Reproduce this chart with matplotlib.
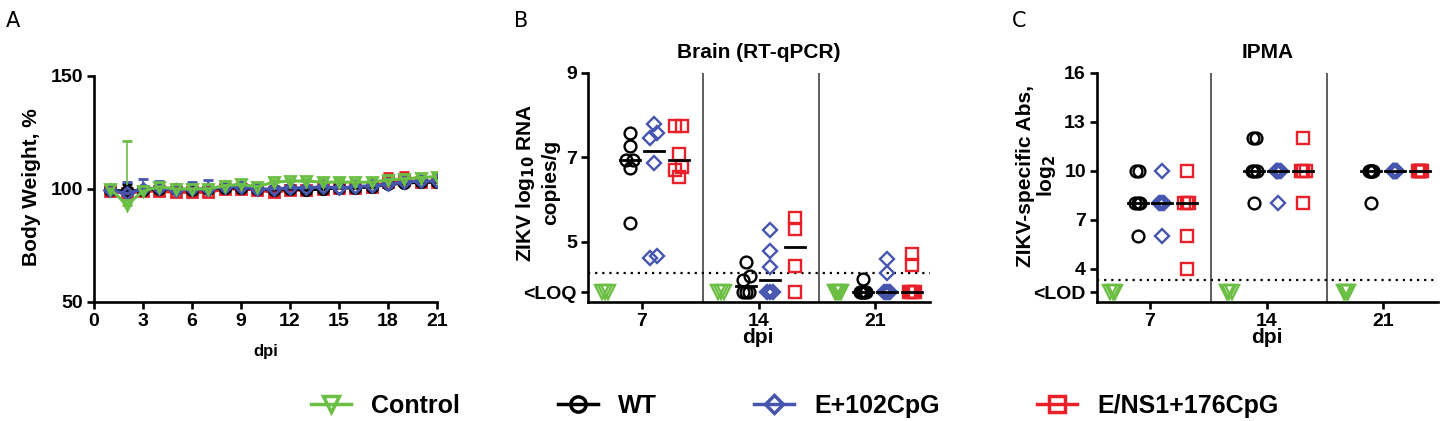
import numpy as np
import matplotlib
matplotlib.use("Agg")
import matplotlib.pyplot as plt
from matplotlib.lines import Line2D

plt.rcParams['font.family'] = ['Liberation Sans', 'DejaVu Sans']
plt.rcParams['font.weight'] = 'bold'
plt.rcParams['mathtext.default'] = 'bf'

# ---- data ----
groups = ['Control', 'WT', 'E+102CpG', 'E/NS1+176CpG']
colors = ['#6cbf45', '#000000', '#4655ae', '#e8202a']
markers = ['v', 'o', 'D', 's']

# Panel A: body weight (%) by day
days = np.arange(1, 22)
bw_control = [100, 93, 99, 101, 100, 100, 100, 101.5, 102, 101, 103, 103.5, 103.5, 103, 103, 103, 103, 104, 104.5, 105, 105.5]
bw_control_err = [1, 28, 1, 1, 1.5, 1, 1, 1, 1, 1.5, 1, 1, 1, 1.5, 1.5, 1, 1.5, 1.5, 1.5, 1.5, 1.5]
bw_wt = [99.5, 99, 99.5, 100, 100, 99.5, 100, 100.5, 100.5, 100, 99.5, 100, 99.5, 100, 100.5, 100.5, 101, 102, 102.5, 103, 103]
bw_wt_err = [1, 3, 1, 3, 1, 1, 1, 1.5, 1, 1, 1, 1, 1, 1, 1, 1, 1.5, 1.5, 1, 1, 1]
bw_e102 = [99.5, 98, 100, 100.5, 99.5, 100, 100, 101, 101, 100, 100, 100.5, 100.5, 101, 100.5, 101, 101.5, 102, 103, 103.5, 103.5]
bw_e102_err = [1, 5, 4.5, 3, 1.5, 3, 4, 1.5, 1.5, 1.5, 1.5, 1, 1, 1, 1, 1, 1.5, 1.5, 1.5, 1.5, 1.5]
bw_ens1 = [99, 98, 99, 99, 98.5, 98.5, 98.5, 100, 100, 99.5, 98.5, 99.5, 99.5, 100, 100.5, 100.5, 101, 103, 104, 103, 103]
bw_ens1_err = [1, 2, 2, 2, 1.5, 1.5, 1.5, 1.5, 1.5, 1.5, 2, 1.5, 1.5, 1.5, 1.5, 1.5, 2, 4, 3.5, 3, 3]

# Panel B: brain RT-qPCR (log10 copies/g); LOQ shown at 3.8
dpi_labels = ['7', '14', '21']
loq = 3.8
brain_control = [[loq, loq, loq], [loq, loq, loq], [loq, loq, loq, loq]]
brain_wt = [[7.57, 7.27, 6.93, 6.93, 6.75, 5.45],
            [4.52, 4.18, 4.08, loq, loq, loq],
            [4.12, loq, loq, loq, loq, loq]]
brain_e102 = [[7.79, 7.57, 7.45, 6.86, 4.67, 4.62],
              [5.27, 4.78, 4.40, loq, loq, loq],
              [4.60, 4.26, loq, loq, loq, loq]]
brain_ens1 = [[7.74, 7.74, 7.09, 6.77, 6.70, 6.54],
              [5.55, 5.31, 4.42, loq],
              [4.70, 4.44, loq, loq, loq, loq]]
brain_loq_line = 4.25

# Panel C: IPMA (log2 titre); LOD shown at 2.56
lod = 2.56
ipma_control = [[lod, lod, lod], [lod, lod, lod], [lod, lod, lod, lod]]
ipma_wt = [[10, 10, 8, 8, 8, 6], [12, 12, 10, 10, 10, 8], [10, 10, 10, 10, 10, 8]]
ipma_e102 = [[10, 8, 8, 8, 8, 6], [10, 10, 10, 10, 10, 8], [10, 10, 10, 10, 10, 10]]
ipma_ens1 = [[10, 8, 8, 8, 6, 4], [12, 10, 10, 10, 8], [10, 10, 10, 10, 10, 10]]
ipma_lod_line = 3.32

fig = plt.figure(figsize=(14.4, 4.21), dpi=100)

def style_axes(ax):
    for s in ['top', 'right']:
        ax.spines[s].set_visible(False)
    for s in ['left', 'bottom']:
        ax.spines[s].set_linewidth(1.9)
    ax.tick_params(direction='out', length=5, width=1.9, labelsize=14, pad=3)
    for lab in ax.get_xticklabels() + ax.get_yticklabels():
        lab.set_fontweight('bold')

# ---- Panel A ----
axA = fig.add_axes([0.0653, 0.2827, 0.2382, 0.537])
series_a = [(bw_ens1, bw_ens1_err, 3), (bw_wt, bw_wt_err, 1), (bw_e102, bw_e102_err, 2), (bw_control, bw_control_err, 0)]
for vals, err, k in series_a:
    axA.errorbar(days, vals, yerr=[np.zeros(len(err)), err], color=colors[k], marker=markers[k],
                 ms=7.5 if k != 2 else 6.5, mfc='none', mec=colors[k], mew=2, lw=2.2,
                 ecolor=colors[k], elinewidth=1.2, capsize=3.5, capthick=1.2)
axA.set_xlim(0, 21)
axA.set_ylim(50, 150)
axA.set_xticks(np.arange(0, 22, 3))
axA.set_yticks([50, 100, 150])
axA.set_ylabel('Body Weight, %', fontsize=15, fontweight='bold')
axA.set_xlabel('dpi', fontsize=12, fontweight='bold')
axA.yaxis.set_label_coords(-0.155, 0.51)
axA.xaxis.set_label_coords(0.5, -0.185)
style_axes(axA)

def spread(vals, tol, pair_w, multi_w):
    vals = np.asarray(vals, dtype=float)
    offs = np.zeros(len(vals))
    order = np.argsort(vals)
    clusters, cur = [], [order[0]]
    for i in order[1:]:
        if vals[i] - vals[cur[-1]] <= tol:
            cur.append(i)
        else:
            clusters.append(cur)
            cur = [i]
    clusters.append(cur)
    for c in clusters:
        n = len(c)
        if n > 1:
            w = pair_w if n == 2 else multi_w
            offs[c] = np.linspace(-w / 2, w / 2, n)
    return offs

offsets = [-0.32, -0.105, 0.1, 0.315]
sizes = [10, 8.5, 7.5, 8.5]

def scatter_panel(ax, data_sets, tol, pair_w, multi_w):
    for k, data in enumerate(data_sets):
        for g, vals in enumerate(data):
            x = g + offsets[k] + spread(vals, tol, pair_w, multi_w)
            ax.plot(x, vals, linestyle='none', marker=markers[k], ms=sizes[k],
                    mfc='none', mec=colors[k], mew=1.7, zorder=3)
            if k > 0:
                m = np.median(vals)
                ax.plot([g + offsets[k] - 0.085, g + offsets[k] + 0.085], [m, m], color='black', lw=2, zorder=4)
    for sx in [0.52, 1.52]:
        ax.axvline(sx, color='#333333', lw=1.1, zorder=1)
    ax.set_xticks([0, 1, 2])
    ax.set_xticklabels(dpi_labels)

# ---- Panel B ----
axB = fig.add_axes([0.4083, 0.2827, 0.2375, 0.544])
scatter_panel(axB, [brain_control, brain_wt, brain_e102, brain_ens1], 0.13, 0.06, 0.05)
axB.axhline(brain_loq_line, color='black', lw=1.6, linestyle=(0, (1, 2.2)), zorder=2)
axB.set_xlim(-0.464, 2.47)
axB.set_ylim(3.57, 9)
axB.set_yticks([loq, 5, 7, 9])
axB.set_yticklabels(['<LOQ', '5', '7', '9'])
axB.set_ylabel('ZIKV log$_{10}$ RNA\ncopies/g', fontsize=15, fontweight='bold', linespacing=1.3)
axB.set_xlabel('dpi', fontsize=15, fontweight='bold')
axB.yaxis.set_label_coords(-0.08, 0.52)
axB.xaxis.set_label_coords(0.497, -0.115)
axB.set_title('Brain (RT-qPCR)', fontsize=15, fontweight='bold', pad=11)
style_axes(axB)

# ---- Panel C ----
axC = fig.add_axes([0.7618, 0.2827, 0.2368, 0.544])
scatter_panel(axC, [ipma_control, ipma_wt, ipma_e102, ipma_ens1], 0.1, 0.025, 0.04)
axC.axhline(ipma_lod_line, color='black', lw=1.6, linestyle=(0, (1, 2.2)), zorder=2)
axC.set_xlim(-0.455, 2.47)
axC.set_ylim(1.95, 16)
axC.set_yticks([lod, 4, 7, 10, 13, 16])
axC.set_yticklabels(['<LOD', '4', '7', '10', '13', '16'])
axC.set_ylabel('ZIKV-specific Abs,\nlog$_{2}$', fontsize=15, fontweight='bold', linespacing=1.0)
axC.set_xlabel('dpi', fontsize=15, fontweight='bold')
axC.yaxis.set_label_coords(-0.115, 0.55)
axC.xaxis.set_label_coords(0.497, -0.115)
axC.set_title('IPMA', fontsize=15, fontweight='bold', pad=11)
style_axes(axC)

# panel letters
for x, lab in [(0.004, 'A'), (0.357, 'B'), (0.703, 'C')]:
    fig.text(x, 0.975, lab, fontsize=15, fontweight='normal', family='DejaVu Sans', va='top')

# legend
handles = [Line2D([0], [0], color=colors[k], marker=markers[k], ms=11 if k != 2 else 9.5, mfc='none',
                  mec=colors[k], mew=2.5, lw=2.5) for k in range(4)]
fig.legend(handles, groups, loc='center', bbox_to_anchor=(0.552, 0.036), ncol=4, frameon=False,
           prop={'size': 18, 'weight': 'bold'}, handlelength=1.6, handletextpad=0.8, columnspacing=3.9)

fig.savefig('out.png', dpi=100)
